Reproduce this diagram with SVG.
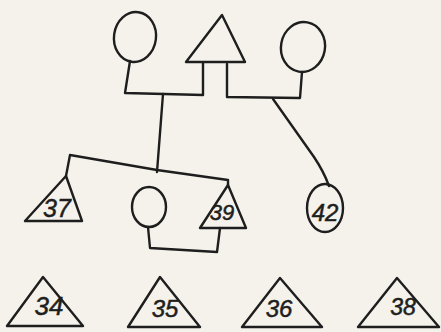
<svg xmlns="http://www.w3.org/2000/svg" width="441" height="332" viewBox="0 0 441 332">
<style>
.s{fill:none;stroke:#1e1e1e;stroke-width:2.4;stroke-linejoin:round;stroke-linecap:round}
.t{font-family:"Liberation Sans",Arial,sans-serif;font-style:italic;fill:#1e1e1e;stroke:#1e1e1e;stroke-width:0.5;text-anchor:middle}
</style>
<rect width="441" height="332" fill="#f4f2ea"/>
<g id="connectors" class="s">
<polyline points="130,61 125,93 203,95 203,63"/>
<line x1="163" y1="94" x2="157" y2="172"/>
<polyline points="66,176 70,155 157,170 228,180 228,185"/>
<polyline points="302,72 300,98 227,97 227,64"/>
<path d="M273,99 L314,157 Q324,172 329,186"/>
<polyline points="148,227 150,248 217,252 220,228"/>
</g>
<g id="n-top-circle-left"><ellipse class="s" cx="135" cy="37" rx="21" ry="25" transform="rotate(8 135 37)"/></g>
<g id="n-top-triangle"><polygon class="s" points="222,15 186,62 245,62"/></g>
<g id="n-top-circle-right"><ellipse class="s" cx="303" cy="47" rx="22" ry="25" transform="rotate(10 303 47)"/></g>
<g id="n37"><polygon class="s" points="66,176 25,221 82,221"/><text class="t" x="57" y="217" font-size="25">37</text></g>
<g id="n-circle-mid"><ellipse class="s" cx="149" cy="207" rx="17" ry="20"/></g>
<g id="n39"><polygon class="s" points="228,185 200,228 246,228"/><text class="t" x="222" y="220" font-size="22">39</text></g>
<g id="n42"><ellipse class="s" cx="325" cy="208" rx="18" ry="24"/><text class="t" x="325" y="221" font-size="24">42</text></g>
<g id="n34"><polygon class="s" points="43,277 7,326 83,326"/><text class="t" x="49" y="315" font-size="26">34</text></g>
<g id="n35"><polygon class="s" points="160,277 128,327 200,327"/><text class="t" x="165" y="317" font-size="24">35</text></g>
<g id="n36"><polygon class="s" points="280,278 242,327 322,327"/><text class="t" x="279" y="317" font-size="24">36</text></g>
<g id="n38"><polygon class="s" points="397,278 358,327 439,327"/><text class="t" x="403" y="315" font-size="23">38</text></g>
</svg>
